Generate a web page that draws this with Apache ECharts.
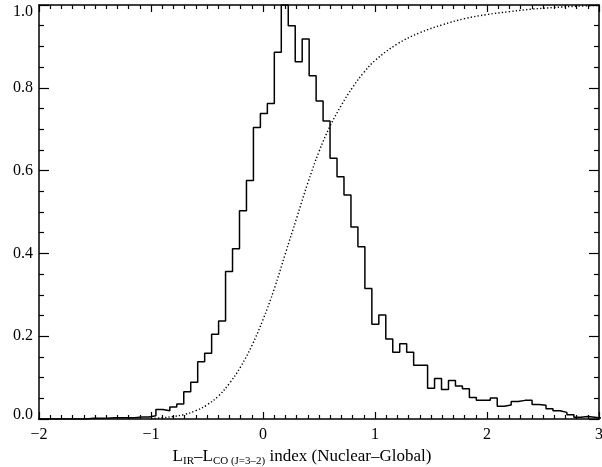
<!DOCTYPE html>
<html>
<head>
<meta charset="utf-8">
<script src="https://cdn.jsdelivr.net/npm/echarts@6/dist/echarts.min.js"></script>
<style>
  html, body { margin: 0; padding: 0; background: #fff; }
  #chart { width: 602px; height: 467px; }
</style>
</head>
<body>
<div id="chart"></div>
<script>
// Histogram of the index: first bin edge, bin width and normalised heights
const binStart = -2.0137;
const binWidth = 0.0622;
const binHeights = [
  0, 0, 0, 0, 0, 0, 0,
  0.002, 0.002, 0.002, 0.003, 0.003, 0.003, 0.003,
  0.005, 0.005, 0.008,
  0.023, 0.020, 0.029, 0.036, 0.066, 0.089, 0.138, 0.159, 0.205, 0.237,
  0.356, 0.411, 0.503, 0.576,
  0.704, 0.738, 0.762, 0.886, 1.000, 0.950, 0.863, 0.918, 0.829, 0.768,
  0.720, 0.630, 0.585, 0.541, 0.464, 0.416, 0.315,
  0.229, 0.251, 0.193, 0.161, 0.182, 0.161, 0.130, 0.130,
  0.074, 0.098, 0.071, 0.093, 0.080, 0.073, 0.052, 0.045, 0.045, 0.051,
  0.031, 0.034, 0.042, 0.045, 0.045, 0.035, 0.033, 0.025, 0.020, 0.016,
  0.010, 0.004, 0.006, 0.004, 0.002
];

// Cumulative fraction (dotted curve)
const cdfX = [-1.0, -0.9, -0.8, -0.7, -0.6, -0.5, -0.4, -0.3, -0.2, -0.1,
  0.0, 0.1, 0.2, 0.3, 0.4, 0.5, 0.6, 0.7, 0.8, 0.9,
  1.0, 1.2, 1.4, 1.6, 1.8, 2.0, 2.2, 2.4, 2.6, 2.8, 3.0];
const cdfY = [0.001, 0.003, 0.006, 0.011, 0.020, 0.034, 0.055, 0.086, 0.126, 0.177,
  0.240, 0.314, 0.400, 0.485, 0.570, 0.646, 0.708, 0.758, 0.801, 0.837,
  0.866, 0.906, 0.933, 0.952, 0.967, 0.977, 0.984, 0.990, 0.994, 0.997, 0.999];

// Axis ticks
const xTicks = [-2, -1, 0, 1, 2, 3];
const yTicks = [0.0, 0.2, 0.4, 0.6, 0.8, 1.0];

// Step outline: each bin's left edge with its height, plus the last right edge
const histData = binHeights.map((h, i) => [binStart + i * binWidth, h]);
histData.push([binStart + binHeights.length * binWidth, binHeights[binHeights.length - 1]]);
const cdfData = cdfX.map((x, i) => [x, cdfY[i]]);

const FONT = 'Liberation Serif';
const ink = '#000';

function xAxisCfg(pos, showLabels) {
  return {
    type: 'value', position: pos,
    min: xTicks[0], max: xTicks[xTicks.length - 1], interval: 1,
    axisLine: { show: true, onZero: false, lineStyle: { color: ink, width: 1.5 } },
    axisTick: { show: true, inside: true, length: 7, lineStyle: { color: ink, width: 1.2 } },
    minorTick: { show: true, splitNumber: 10, length: 4, lineStyle: { color: ink, width: 1.2 } },
    splitLine: { show: false },
    axisLabel: {
      show: showLabels, margin: 8, fontFamily: FONT, fontSize: 16, color: ink,
      formatter: v => String(v).replace('-', '\u2212')
    }
  };
}
function yAxisCfg(pos, showLabels) {
  const lo = yTicks[0], hi = yTicks[yTicks.length - 1];
  return {
    type: 'value', position: pos,
    min: lo, max: hi, interval: 0.2,
    axisLine: { show: true, onZero: false, lineStyle: { color: ink, width: 1.5 } },
    axisTick: { show: true, inside: true, length: 10, lineStyle: { color: ink, width: 1.2 } },
    minorTick: { show: true, splitNumber: 4, length: 5, lineStyle: { color: ink, width: 1.2 } },
    splitLine: { show: false },
    axisLabel: {
      show: showLabels, margin: 6, fontFamily: FONT, fontSize: 16, color: ink,
      // end labels are nudged inward so they stay on the canvas
      formatter: v => {
        const t = v.toFixed(1);
        if (Math.abs(v - hi) < 1e-9) return '{top|' + t + '}';
        if (Math.abs(v - lo) < 1e-9) return '{bot|' + t + '}';
        return t;
      },
      rich: {
        top: { fontFamily: FONT, fontSize: 16, color: ink, padding: [14, 0, 0, 0] },
        bot: { fontFamily: FONT, fontSize: 16, color: ink, padding: [0, 0, 8, 0] }
      }
    }
  };
}

const bottomX = xAxisCfg('bottom', true);
bottomX.name = '{m|L}{s|IR}{m|\u2013L}{s|CO (J=3\u20132)}{m| index (Nuclear\u2013Global)}';
bottomX.nameLocation = 'middle';
bottomX.nameGap = 27;
bottomX.nameTextStyle = {
  padding: [0, 34, 0, 0],
  rich: {
    m: { fontFamily: FONT, fontSize: 17, color: ink, lineHeight: 20, verticalAlign: 'middle' },
    s: { fontFamily: FONT, fontSize: 11, color: ink, lineHeight: 12, verticalAlign: 'bottom' }
  }
};

const chart = echarts.init(document.getElementById('chart'), null, { renderer: 'canvas' });
chart.setOption({
  animation: false,
  backgroundColor: '#fff',
  grid: { left: 39, right: 3, top: 5, bottom: 48, containLabel: false, outerBoundsMode: 'none' },
  xAxis: [bottomX, xAxisCfg('top', false)],
  yAxis: [yAxisCfg('left', true), yAxisCfg('right', false)],
  series: [
    {
      name: 'histogram', type: 'line', step: 'end',
      xAxisIndex: 0, yAxisIndex: 0,
      data: histData, showSymbol: false, clip: true,
      lineStyle: { color: ink, width: 1.5 }
    },
    {
      name: 'cumulative', type: 'line', smooth: 0.4,
      xAxisIndex: 0, yAxisIndex: 0,
      data: cdfData, showSymbol: false, clip: true,
      lineStyle: { color: ink, width: 1.4, type: [1.3, 2.2] }
    }
  ]
});
</script>
</body>
</html>
